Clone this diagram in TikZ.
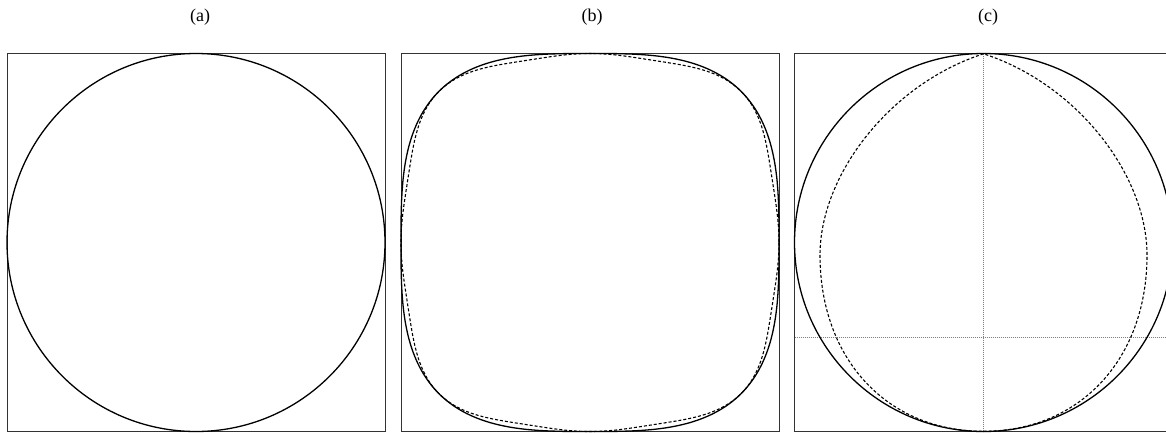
\documentclass[tikz,border=0pt]{standalone}
\usepackage{fontspec}
\setmainfont{Liberation Serif}
\def\nb{3.1}
\pgfmathdeclarefunction{rsq}{1}{%
  \pgfmathparse{((abs(cos(#1))+0.0001)^\nb + (abs(sin(#1))+0.0001)^\nb)^(-1/\nb)}}
\pgfmathdeclarefunction{rdq}{1}{%
  \pgfmathparse{rsq(#1)*(1-0.026*(sin(4*#1))^2)}}
\begin{document}
\begin{tikzpicture}[x=1pt,y=-1pt,
  frame/.style={draw=black!80, line width=0.8pt},
  curve/.style={draw=black, line width=1.3pt},
  dcurve/.style={draw=black, line width=1.1pt, dash pattern=on 3pt off 2pt},
  guide/.style={draw=black!50, line width=0.6pt, dash pattern=on 0.6pt off 1.4pt},
  lab/.style={font=\fontsize{18}{20}\selectfont, inner sep=0pt}]
\useasboundingbox (0,0) rectangle (1166,432);
\clip (0,0) rectangle (1166,432);
\fill[white] (0,0) rectangle (1166,432);

% labels
\node[lab] (la) at (200,17) {(a)};
\node[lab] (lb) at (592,17) {(b)};
\node[lab] (lc) at (988,17) {(c)};

% panel (a)
\draw[frame] (7,53.5) rectangle (385,431.5);
\draw[curve] (196,242.5) circle[radius=189];

% panel (b)
\draw[frame] (401,53.5) rectangle (779,431.5);
\draw[curve] plot[domain=0:360, samples=361, variable=\t]
  ({590+189*cos(\t)*rsq(\t)}, {242.5+189*sin(\t)*rsq(\t)}) -- cycle;
\draw[dcurve] plot[domain=0:360, samples=361, variable=\t]
  ({590+189*cos(\t)*rdq(\t)}, {242.5+189*sin(\t)*rdq(\t)}) -- cycle;

% panel (c)
\draw[frame] (794.5,53.5) rectangle (1172.5,431.5);
\draw[guide] (983.5,53.5) -- (983.5,431.5);
\draw[guide] (794.5,337) -- (1172.5,337);
\draw[curve] (983.5,242.5) circle[radius=189];
\draw[dcurve] (983.5,53.8)
  .. controls (890,84) and (820,175) .. (820,255)
  .. controls (820,360.8) and (888.7,431.3) .. (983.5,431.3)
  .. controls (1078.3,431.3) and (1147,360.8) .. (1147,255)
  .. controls (1147,175) and (1077,84) .. (983.5,53.8);
\end{tikzpicture}
\end{document}
